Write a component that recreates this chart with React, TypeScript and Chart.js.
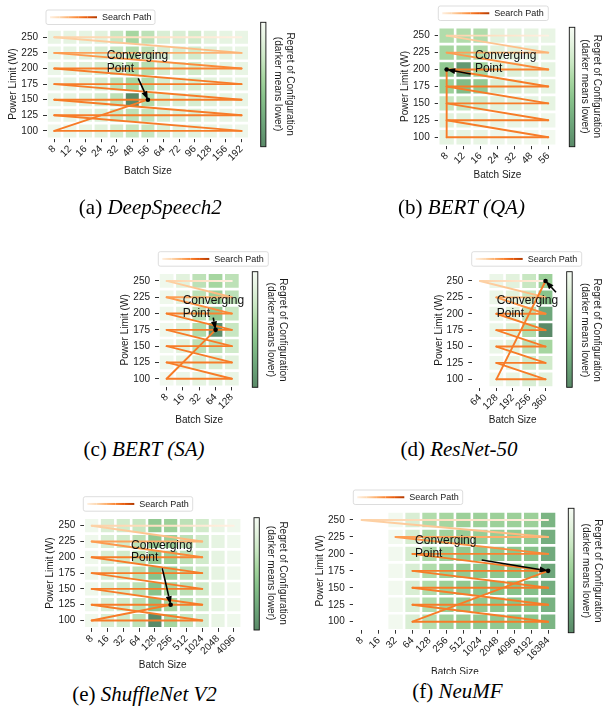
import React, { useEffect, useRef } from 'react';
import { Chart, registerables } from 'chart.js';

Chart.register(...registerables);

const FONT = '"Liberation Sans", Arial, sans-serif';
const SERIF = '"Liberation Serif", "Times New Roman", serif';
const INK = '#1a1a1a';

// ---------- shared axes ----------
const POWER_ROWS = [250, 225, 200, 175, 150, 125, 100];
const POWER_TICKS = [100, 125, 150, 175, 200, 225, 250];

// ---------- (a) DeepSpeech2 ----------
const DS2_BATCH = ['8', '12', '16', '24', '32', '48', '56', '64', '72', '96', '128', '156', '192'];
const DS2_REGRET = [
  [0.90, 0.88, 0.88, 0.85, 0.70, 0.55, 0.65, 0.80, 0.80, 0.75, 0.85, 0.88, 0.90],
  [0.92, 0.88, 0.85, 0.80, 0.70, 0.60, 0.65, 0.80, 0.80, 0.75, 0.85, 0.88, 0.90],
  [0.92, 0.88, 0.85, 0.78, 0.70, 0.60, 0.62, 0.78, 0.80, 0.75, 0.85, 0.88, 0.90],
  [0.92, 0.88, 0.85, 0.78, 0.65, 0.55, 0.60, 0.78, 0.80, 0.78, 0.85, 0.88, 0.90],
  [0.92, 0.88, 0.85, 0.78, 0.65, 0.00, 0.60, 0.78, 0.80, 0.78, 0.85, 0.88, 0.90],
  [0.94, 0.90, 0.88, 0.82, 0.72, 0.65, 0.68, 0.80, 0.82, 0.80, 0.88, 0.90, 0.92],
  [0.95, 0.92, 0.90, 0.85, 0.78, 0.70, 0.70, 0.82, 0.85, 0.85, 0.90, 0.92, 0.94],
];
const DS2_PATH_BATCH = ['192', '8', '192', '8', '192', '8', '192', '8', '192', '8', '192', '8', '192', '8', '56'];
const DS2_PATH_POWER = [250, 250, 225, 225, 200, 200, 175, 175, 150, 150, 125, 125, 100, 100, 150];
const DS2_CONVERGE: [string, number] = ['56', 150];

// ---------- (b) BERT (QA) ----------
const QA_BATCH = ['8', '12', '16', '24', '32', '48', '56'];
const QA_REGRET = [
  [0.60, 0.60, 0.60, 0.85, 0.85, 0.88, 0.90],
  [0.55, 0.55, 0.60, 0.85, 0.85, 0.88, 0.88],
  [0.45, 0.10, 0.55, 0.80, 0.82, 0.85, 0.88],
  [0.50, 0.35, 0.45, 0.80, 0.82, 0.85, 0.88],
  [0.70, 0.70, 0.75, 0.85, 0.85, 0.88, 0.88],
  [0.85, 0.85, 0.88, 0.90, 0.90, 0.92, 0.94],
  [0.88, 0.88, 0.90, 0.94, 0.95, 0.96, 0.97],
];
const QA_PATH_BATCH = ['56', '8', '56', '8', '56', '8', '56', '8', '56', '8', '56', '8', '56', '8', '8'];
const QA_PATH_POWER = [250, 250, 225, 225, 200, 200, 175, 175, 150, 150, 125, 125, 100, 100, 200];
const QA_CONVERGE: [string, number] = ['8', 200];

// ---------- (c) BERT (SA) ----------
const SA_BATCH = ['8', '16', '32', '64', '128'];
const SA_REGRET = [
  [0.95, 0.85, 0.65, 0.55, 0.65],
  [0.95, 0.85, 0.65, 0.50, 0.65],
  [0.95, 0.85, 0.65, 0.45, 0.70],
  [0.95, 0.85, 0.60, 0.05, 0.70],
  [0.95, 0.85, 0.65, 0.65, 0.75],
  [0.95, 0.88, 0.80, 0.80, 0.85],
  [0.97, 0.92, 0.88, 0.88, 0.90],
];
const SA_PATH_BATCH = ['128', '8', '128', '8', '128', '8', '128', '8', '128', '8', '128', '8', '128', '8', '64'];
const SA_PATH_POWER = [250, 250, 225, 225, 200, 200, 175, 175, 150, 150, 125, 125, 100, 100, 175];
const SA_CONVERGE: [string, number] = ['64', 175];

// ---------- (d) ResNet-50 ----------
const RN_BATCH = ['64', '128', '192', '256', '360'];
const RN_REGRET = [
  [null, 0.92, 0.85, 0.70, 0.50],
  [null, 0.92, 0.85, 0.70, 0.40],
  [null, 0.92, 0.85, 0.65, 0.20],
  [null, 0.92, 0.82, 0.60, 0.00],
  [null, 0.92, 0.85, 0.65, 0.55],
  [null, 0.94, 0.88, 0.75, 0.75],
  [null, 0.96, 0.90, 0.80, 0.85],
];
const RN_PATH_BATCH = ['360', '64', '360', '128', '360', '128', '360', '128', '360', '128', '360', '128', '360', '128', '360'];
const RN_PATH_POWER = [250, 250, 225, 225, 200, 200, 175, 175, 150, 150, 125, 125, 100, 100, 250];
const RN_CONVERGE: [string, number] = ['360', 250];

// ---------- (e) ShuffleNet V2 ----------
const SN_BATCH = ['8', '16', '32', '64', '128', '256', '512', '1024', '2048', '4096'];
const SN_REGRET = [
  [0.95, 0.80, 0.75, 0.70, 0.45, 0.50, 0.65, 0.75, 0.90, 0.95],
  [0.95, 0.80, 0.75, 0.65, 0.45, 0.50, 0.65, 0.75, 0.88, 0.95],
  [0.95, 0.80, 0.75, 0.65, 0.45, 0.50, 0.65, 0.75, 0.88, 0.95],
  [0.95, 0.80, 0.75, 0.65, 0.40, 0.50, 0.65, 0.75, 0.88, 0.95],
  [0.95, 0.80, 0.75, 0.65, 0.40, 0.55, 0.65, 0.75, 0.88, 0.95],
  [0.95, 0.80, 0.75, 0.65, 0.40, 0.55, 0.65, 0.75, 0.88, 0.95],
  [0.95, 0.80, 0.75, 0.65, 0.00, 0.55, 0.70, 0.80, 0.90, 0.95],
];
const SN_PATH_BATCH = ['4096', '8', '1024', '8', '1024', '8', '1024', '8', '1024', '8', '1024', '8', '1024', '8', '256'];
const SN_PATH_POWER = [250, 250, 225, 225, 200, 200, 175, 175, 150, 150, 125, 125, 100, 100, 125];
const SN_CONVERGE: [string, number] = ['256', 125];

// ---------- (f) NeuMF ----------
const NM_BATCH = ['8', '16', '32', '64', '128', '256', '512', '1024', '2048', '4096', '8192', '16384'];
const NM_REGRET = [
  [null, null, 0.97, 0.80, 0.60, 0.55, 0.50, 0.50, 0.50, 0.50, 0.50, 0.30],
  [null, null, 0.97, 0.78, 0.58, 0.52, 0.48, 0.48, 0.48, 0.45, 0.45, 0.25],
  [null, null, 0.97, 0.78, 0.58, 0.50, 0.45, 0.45, 0.45, 0.42, 0.40, 0.22],
  [null, null, 0.97, 0.80, 0.60, 0.50, 0.45, 0.42, 0.42, 0.40, 0.38, 0.20],
  [null, null, 0.97, 0.80, 0.60, 0.50, 0.45, 0.42, 0.40, 0.40, 0.38, 0.25],
  [null, null, 0.97, 0.80, 0.60, 0.50, 0.45, 0.45, 0.42, 0.40, 0.40, 0.28],
  [null, null, 0.97, 0.80, 0.62, 0.52, 0.48, 0.45, 0.45, 0.42, 0.42, 0.30],
];
const NM_PATH_BATCH = ['16384', '8', '16384', '32', '16384', '64', '16384', '64', '16384', '64', '16384', '64', '16384', '64', '16384'];
const NM_PATH_POWER = [250, 250, 225, 225, 200, 200, 175, 175, 150, 150, 125, 125, 100, 100, 175];
const NM_CONVERGE: [string, number] = ['16384', 175];

// ---------- colour maps ----------
type Stop = [number, string];
const GREENS: Stop[] = [
  [0, '#f6fbf4'], [0.15, '#e2f2dd'], [0.3, '#c8e7c2'], [0.45, '#a6d6a0'],
  [0.6, '#88c38b'], [0.8, '#6ea77b'], [1, '#5a8a68'],
];
const ORANGES: Stop[] = [
  [0, '#fff5eb'], [0.125, '#fee6ce'], [0.25, '#fdd0a2'], [0.375, '#fdae6b'],
  [0.5, '#fd8d3c'], [0.625, '#f16913'], [0.75, '#d94801'], [0.875, '#a63603'], [1, '#7f2704'],
];
function rgb(h: string) {
  const n = parseInt(h.slice(1), 16);
  return [(n >> 16) & 255, (n >> 8) & 255, n & 255];
}
function cmap(stops: Stop[], t: number) {
  const v = Math.max(0, Math.min(1, t));
  for (let i = 1; i < stops.length; i++) {
    if (v <= stops[i][0]) {
      const [t0, c0] = stops[i - 1];
      const [t1, c1] = stops[i];
      const f = (v - t0) / (t1 - t0);
      const a = rgb(c0), b = rgb(c1);
      return `rgb(${Math.round(a[0] + (b[0] - a[0]) * f)},${Math.round(a[1] + (b[1] - a[1]) * f)},${Math.round(a[2] + (b[2] - a[2]) * f)})`;
    }
  }
  return stops[stops.length - 1][1];
}
const regretColor = (r: number) => cmap(GREENS, 1 - r);
const pathT = (p: number) => 0.04 + 0.52 * Math.pow(Math.min(1, p / 0.32), 0.65);

// ---------- layout (page pixels) ----------
type Spec = {
  letter: string; name: string;
  batches: string[]; regret: (number | null)[][];
  pathBatch: string[]; pathPower: number[]; converge: [string, number];
  noteText: [number, number]; noteTail: [number, number];
  box: { x0: number; y0: number; w: number; h: number; clipH?: number };
  area: { L: number; T: number; R: number; B: number };
  yTitleX: number; xTitleY: number; cbTitleX: number;
  cbar: { x: number; y: number; w: number; h: number };
  legend: { x: number; y: number; w: number; h: number };
  caption: { cx: number; cy: number };
};

const PANELS: Spec[] = [
  {
    letter: 'a', name: 'DeepSpeech2', batches: DS2_BATCH, regret: DS2_REGRET,
    pathBatch: DS2_PATH_BATCH, pathPower: DS2_PATH_POWER, converge: DS2_CONVERGE,
    noteText: [3.36, 220], noteTail: [5.38, 184.3],
    box: { x0: 0, y0: 0, w: 302, h: 195 }, area: { L: 46.5, T: 29.5, R: 249.3, B: 138.7 },
    yTitleX: 13.3, xTitleY: 171.7, cbTitleX: 290,
    cbar: { x: 260.7, y: 22.3, w: 5.2, h: 124.4 }, legend: { x: 46, y: 10, w: 109, h: 14.5 },
    caption: { cx: 150.3, cy: 207 },
  },
  {
    letter: 'b', name: 'BERT (QA)', batches: QA_BATCH, regret: QA_REGRET,
    pathBatch: QA_PATH_BATCH, pathPower: QA_PATH_POWER, converge: QA_CONVERGE,
    noteText: [1.67, 220.4], noteTail: [1.42, 193.4],
    box: { x0: 302, y0: 0, w: 303, h: 195 }, area: { L: 438.2, T: 27.2, R: 556.7, B: 145.7 },
    yTitleX: 405.7, xTitleY: 175, cbTitleX: 596.7,
    cbar: { x: 569.3, y: 27.3, w: 5.5, h: 119.4 }, legend: { x: 438.3, y: 6, w: 110, h: 14.5 },
    caption: { cx: 461.5, cy: 207 },
  },
  {
    letter: 'c', name: 'BERT (SA)', batches: SA_BATCH, regret: SA_REGRET,
    pathBatch: SA_PATH_BATCH, pathPower: SA_PATH_POWER, converge: SA_CONVERGE,
    noteText: [0.985, 219.7], noteTail: [2.86, 193.6],
    box: { x0: 0, y0: 240, w: 302, h: 195 }, area: { L: 158.5, T: 272.8, R: 240, B: 386.9 },
    yTitleX: 125.3, xTitleY: 420, cbTitleX: 282.7,
    cbar: { x: 252.3, y: 271.7, w: 5.5, h: 115.6 }, legend: { x: 158.3, y: 251.7, w: 110, h: 14.5 },
    caption: { cx: 144, cy: 449 },
  },
  {
    letter: 'd', name: 'ResNet-50', batches: RN_BATCH, regret: RN_REGRET,
    pathBatch: RN_PATH_BATCH, pathPower: RN_PATH_POWER, converge: RN_CONVERGE,
    noteText: [1.02, 219.9], noteTail: [4.64, 232.7],
    box: { x0: 302, y0: 240, w: 303, h: 195 }, area: { L: 471.8, T: 272.8, R: 553.7, B: 387.5 },
    yTitleX: 439, xTitleY: 420, cbTitleX: 596.3,
    cbar: { x: 566.7, y: 271.7, w: 5.5, h: 115.6 }, legend: { x: 471.7, y: 251.7, w: 110, h: 14.5 },
    caption: { cx: 459, cy: 449 },
  },
  {
    letter: 'e', name: 'ShuffleNet V2', batches: SN_BATCH, regret: SN_REGRET,
    pathBatch: SN_PATH_BATCH, pathPower: SN_PATH_POWER, converge: SN_CONVERGE,
    noteText: [2.49, 218.4], noteTail: [4.47, 182.6],
    box: { x0: 0, y0: 480, w: 302, h: 200 }, area: { L: 83.8, T: 517.8, R: 241.7, B: 628.4 },
    yTitleX: 50.3, xTitleY: 665, cbTitleX: 282.7,
    cbar: { x: 254, y: 517.7, w: 5.3, h: 112.3 }, legend: { x: 83.3, y: 496.7, w: 109.4, h: 14.5 },
    caption: { cx: 144.5, cy: 694 },
  },
  {
    letter: 'f', name: 'NeuMF', batches: NM_BATCH, regret: NM_REGRET,
    pathBatch: NM_PATH_BATCH, pathPower: NM_PATH_POWER, converge: NM_CONVERGE,
    noteText: [3.15, 219.4], noteTail: [7.08, 191],
    box: { x0: 302, y0: 480, w: 303, h: 210, clipH: 193.5 }, area: { L: 353.2, T: 511.5, R: 556.6, B: 630.2 },
    yTitleX: 320.7, xTitleY: 672, cbTitleX: 597.5,
    cbar: { x: 568.3, y: 508.3, w: 5.7, h: 124.4 }, legend: { x: 353.3, y: 490, w: 109.4, h: 14.5 },
    caption: { cx: 457.5, cy: 691 },
  },
];

const CELL_GAP = 2.6;

function drawArrow(ctx: CanvasRenderingContext2D, x1: number, y1: number, x2: number, y2: number) {
  const ang = Math.atan2(y2 - y1, x2 - x1);
  const headLen = 8.5, headW = 3;
  const bx = x2 - headLen * Math.cos(ang), by = y2 - headLen * Math.sin(ang);
  ctx.beginPath();
  ctx.moveTo(x1, y1);
  ctx.lineTo(bx, by);
  ctx.lineWidth = 1.6;
  ctx.strokeStyle = '#000';
  ctx.stroke();
  ctx.beginPath();
  ctx.moveTo(x2, y2);
  ctx.lineTo(bx + headW * Math.sin(ang), by - headW * Math.cos(ang));
  ctx.lineTo(bx - headW * Math.sin(ang), by + headW * Math.cos(ang));
  ctx.closePath();
  ctx.fillStyle = '#000';
  ctx.fill();
}

function buildConfig(spec: Spec): any {
  const { batches, regret, area, box } = spec;
  const n = batches.length;
  const cells: any[] = [];
  regret.forEach((row, r) => row.forEach((v, c) => {
    if (v !== null) cells.push({ x: c, y: POWER_ROWS[r], v });
  }));
  const path = spec.pathBatch.map((b, i) => ({ x: batches.indexOf(b), y: spec.pathPower[i] }));
  const conv = [{ x: batches.indexOf(spec.converge[0]), y: spec.converge[1] }];
  const nSeg = path.length - 1;

  const padLeft = spec.yTitleX - 6 - box.x0;
  const wy = area.L - (spec.yTitleX - 6);
  const padTop = area.T - box.y0;
  const hx = spec.xTitleY + 6 - area.B;
  const padBottom = box.y0 + box.h - (spec.xTitleY + 6);
  const wy2 = spec.cbTitleX + 6 - area.R;
  const padRight = box.x0 + box.w - (spec.cbTitleX + 6);

  const cellRadius = (chart: any) => {
    const xs = chart.scales.x;
    const s = Math.abs(xs.getPixelForValue(1) - xs.getPixelForValue(0));
    return Math.max(0, s - CELL_GAP) / Math.SQRT2;
  };

  const tickFont = { family: FONT, size: 10 };
  const gridOpts = { display: true, drawOnChartArea: false, drawTicks: true, tickLength: 3.5, tickWidth: 1, tickColor: '#333' };

  const overlay = {
    id: 'overlay' + spec.letter,
    afterDatasetsDraw(chart: any) {
      const ctx: CanvasRenderingContext2D = chart.ctx;
      const xs = chart.scales.x, ys = chart.scales.y;
      ctx.save();
      const tx = xs.getPixelForValue(spec.noteTail[0]);
      const ty = ys.getPixelForValue(spec.noteTail[1]);
      const hxp = xs.getPixelForValue(conv[0].x);
      const hyp = ys.getPixelForValue(conv[0].y);
      drawArrow(ctx, tx, ty, hxp, hyp);
      ctx.font = `12px ${FONT}`;
      ctx.fillStyle = '#111';
      ctx.textBaseline = 'middle';
      ctx.textAlign = 'left';
      const px = xs.getPixelForValue(spec.noteText[0]);
      const py = ys.getPixelForValue(spec.noteText[1]);
      ctx.fillText('Converging', px, py);
      ctx.fillText('Point', px, py + 12.5);
      ctx.restore();
    },
    afterDraw(chart: any) {
      const ctx: CanvasRenderingContext2D = chart.ctx;
      ctx.save();
      // colour bar
      const cb = spec.cbar;
      const cx = cb.x - box.x0, cy = cb.y - box.y0;
      const g = ctx.createLinearGradient(0, cy, 0, cy + cb.h);
      for (let i = 0; i <= 20; i++) g.addColorStop(i / 20, cmap(GREENS, i / 20));
      ctx.fillStyle = g;
      ctx.fillRect(cx, cy, cb.w, cb.h);
      ctx.lineWidth = 0.9;
      ctx.strokeStyle = '#111';
      ctx.strokeRect(cx, cy, cb.w, cb.h);
      // legend
      const lg = spec.legend;
      const lx = lg.x - box.x0, ly = lg.y - box.y0;
      ctx.beginPath();
      const rr = 2;
      ctx.moveTo(lx + rr, ly);
      ctx.lineTo(lx + lg.w - rr, ly);
      ctx.quadraticCurveTo(lx + lg.w, ly, lx + lg.w, ly + rr);
      ctx.lineTo(lx + lg.w, ly + lg.h - rr);
      ctx.quadraticCurveTo(lx + lg.w, ly + lg.h, lx + lg.w - rr, ly + lg.h);
      ctx.lineTo(lx + rr, ly + lg.h);
      ctx.quadraticCurveTo(lx, ly + lg.h, lx, ly + lg.h - rr);
      ctx.lineTo(lx, ly + rr);
      ctx.quadraticCurveTo(lx, ly, lx + rr, ly);
      ctx.closePath();
      ctx.fillStyle = 'rgba(255,255,255,0.85)';
      ctx.fill();
      ctx.lineWidth = 0.8;
      ctx.strokeStyle = '#d4d4d4';
      ctx.stroke();
      const midY = ly + lg.h / 2;
      const x0 = lx + 4, x1 = lx + 51;
      const steps = 5;
      for (let i = 0; i < steps; i++) {
        const a = x0 + ((x1 - x0) * i) / steps;
        const b = x0 + ((x1 - x0) * (i + 1)) / steps;
        const sg = ctx.createLinearGradient(a, 0, b, 0);
        sg.addColorStop(0, cmap(ORANGES, 0.05 + 0.8 * i / steps));
        sg.addColorStop(1, cmap(ORANGES, 0.05 + 0.8 * (i + 1) / steps));
        ctx.beginPath();
        ctx.moveTo(a, midY);
        ctx.lineTo(b, midY);
        ctx.lineWidth = 2;
        ctx.strokeStyle = sg;
        ctx.stroke();
      }
      ctx.font = `9px ${FONT}`;
      ctx.fillStyle = INK;
      ctx.textBaseline = 'middle';
      ctx.textAlign = 'left';
      ctx.fillText('Search Path', lx + 56, midY + 0.5);
      ctx.restore();
    },
  };

  return {
    type: 'scatter',
    data: {
      datasets: [
        {
          label: 'Converging Point',
          type: 'scatter',
          data: conv,
          pointRadius: 2.3,
          pointHoverRadius: 2.3,
          pointBackgroundColor: '#000',
          pointBorderWidth: 0,
          order: 1,
        },
        {
          label: 'Search Path',
          type: 'line',
          data: path,
          borderWidth: 1.9,
          pointRadius: 0,
          pointHoverRadius: 0,
          fill: false,
          tension: 0,
          borderCapStyle: 'round',
          borderJoinStyle: 'round',
          borderColor: cmap(ORANGES, 0.56),
          segment: {
            borderColor: (c: any) => {
              const g = c.chart.ctx.createLinearGradient(c.p0.x, c.p0.y, c.p1.x, c.p1.y);
              g.addColorStop(0, cmap(ORANGES, pathT(c.p0DataIndex / nSeg)));
              g.addColorStop(1, cmap(ORANGES, pathT((c.p0DataIndex + 1) / nSeg)));
              return g;
            },
          },
          order: 2,
        },
        {
          label: 'Regret',
          type: 'scatter',
          data: cells,
          pointStyle: 'rect',
          pointRadius: (c: any) => cellRadius(c.chart),
          pointHoverRadius: (c: any) => cellRadius(c.chart),
          pointBorderWidth: 0,
          pointBackgroundColor: (c: any) => (c.raw ? regretColor(c.raw.v) : '#fff'),
          order: 3,
        },
      ],
    },
    options: {
      animation: false,
      responsive: false,
      events: [],
      layout: { padding: { left: padLeft, right: padRight, top: padTop, bottom: padBottom } },
      plugins: { legend: { display: false }, tooltip: { enabled: false }, title: { display: false } },
      scales: {
        x: {
          type: 'linear',
          min: -0.5,
          max: n - 0.5,
          afterBuildTicks: (s: any) => { s.ticks = batches.map((_, i) => ({ value: i })); },
          afterFit: (s: any) => { s.height = hx; },
          ticks: {
            autoSkip: false, minRotation: 45, maxRotation: 45, padding: 1,
            color: INK, font: tickFont,
            callback: (v: any) => batches[Math.round(Number(v))] ?? '',
          },
          grid: gridOpts,
          border: { display: false },
          title: { display: true, text: 'Batch Size', color: INK, font: tickFont, padding: 0 },
        },
        y: {
          type: 'linear',
          min: 87.5,
          max: 262.5,
          afterBuildTicks: (s: any) => { s.ticks = POWER_TICKS.map((v) => ({ value: v })); },
          afterFit: (s: any) => { s.width = wy; },
          ticks: { autoSkip: false, padding: 5, color: INK, font: tickFont, callback: (v: any) => String(v) },
          grid: gridOpts,
          border: { display: false },
          title: { display: true, text: 'Power Limit (W)', color: INK, font: tickFont, padding: 0 },
        },
        y2: {
          type: 'linear',
          position: 'right',
          min: 0,
          max: 1,
          afterFit: (s: any) => { s.width = wy2; },
          ticks: { display: false },
          grid: { display: false },
          border: { display: false },
          title: {
            display: true,
            text: ['Regret of Configuration', '(darker means lower)'],
            color: INK, font: tickFont, padding: 0,
          },
        },
      },
    },
    plugins: [overlay],
  };
}

function Panel({ spec }: { spec: Spec }) {
  const ref = useRef<HTMLCanvasElement>(null);
  useEffect(() => {
    if (!ref.current) return;
    const chart = new Chart(ref.current, buildConfig(spec));
    return () => chart.destroy();
  }, [spec]);
  const { x0, y0, w, h, clipH } = spec.box;
  return (
    <div style={{ position: 'absolute', left: x0, top: y0, width: w, height: clipH ?? h, overflow: 'hidden' }}>
      <canvas ref={ref} width={w} height={h} style={{ display: 'block', width: w, height: h }} />
    </div>
  );
}

function Caption({ spec }: { spec: Spec }) {
  return (
    <div
      style={{
        position: 'absolute', left: spec.caption.cx, top: spec.caption.cy,
        transform: 'translate(-50%, -50%)', font: `21px ${SERIF}`, lineHeight: '21px',
        whiteSpace: 'nowrap', color: '#000',
      }}
    >
      ({spec.letter}) <i>{spec.name}</i>
    </div>
  );
}

export default function App() {
  return (
    <div style={{ position: 'absolute', left: 0, top: 0, width: 605, height: 706, background: '#fff', overflow: 'hidden' }}>
      {PANELS.map((p) => <Panel key={p.letter} spec={p} />)}
      {PANELS.map((p) => <Caption key={'c' + p.letter} spec={p} />)}
    </div>
  );
}
